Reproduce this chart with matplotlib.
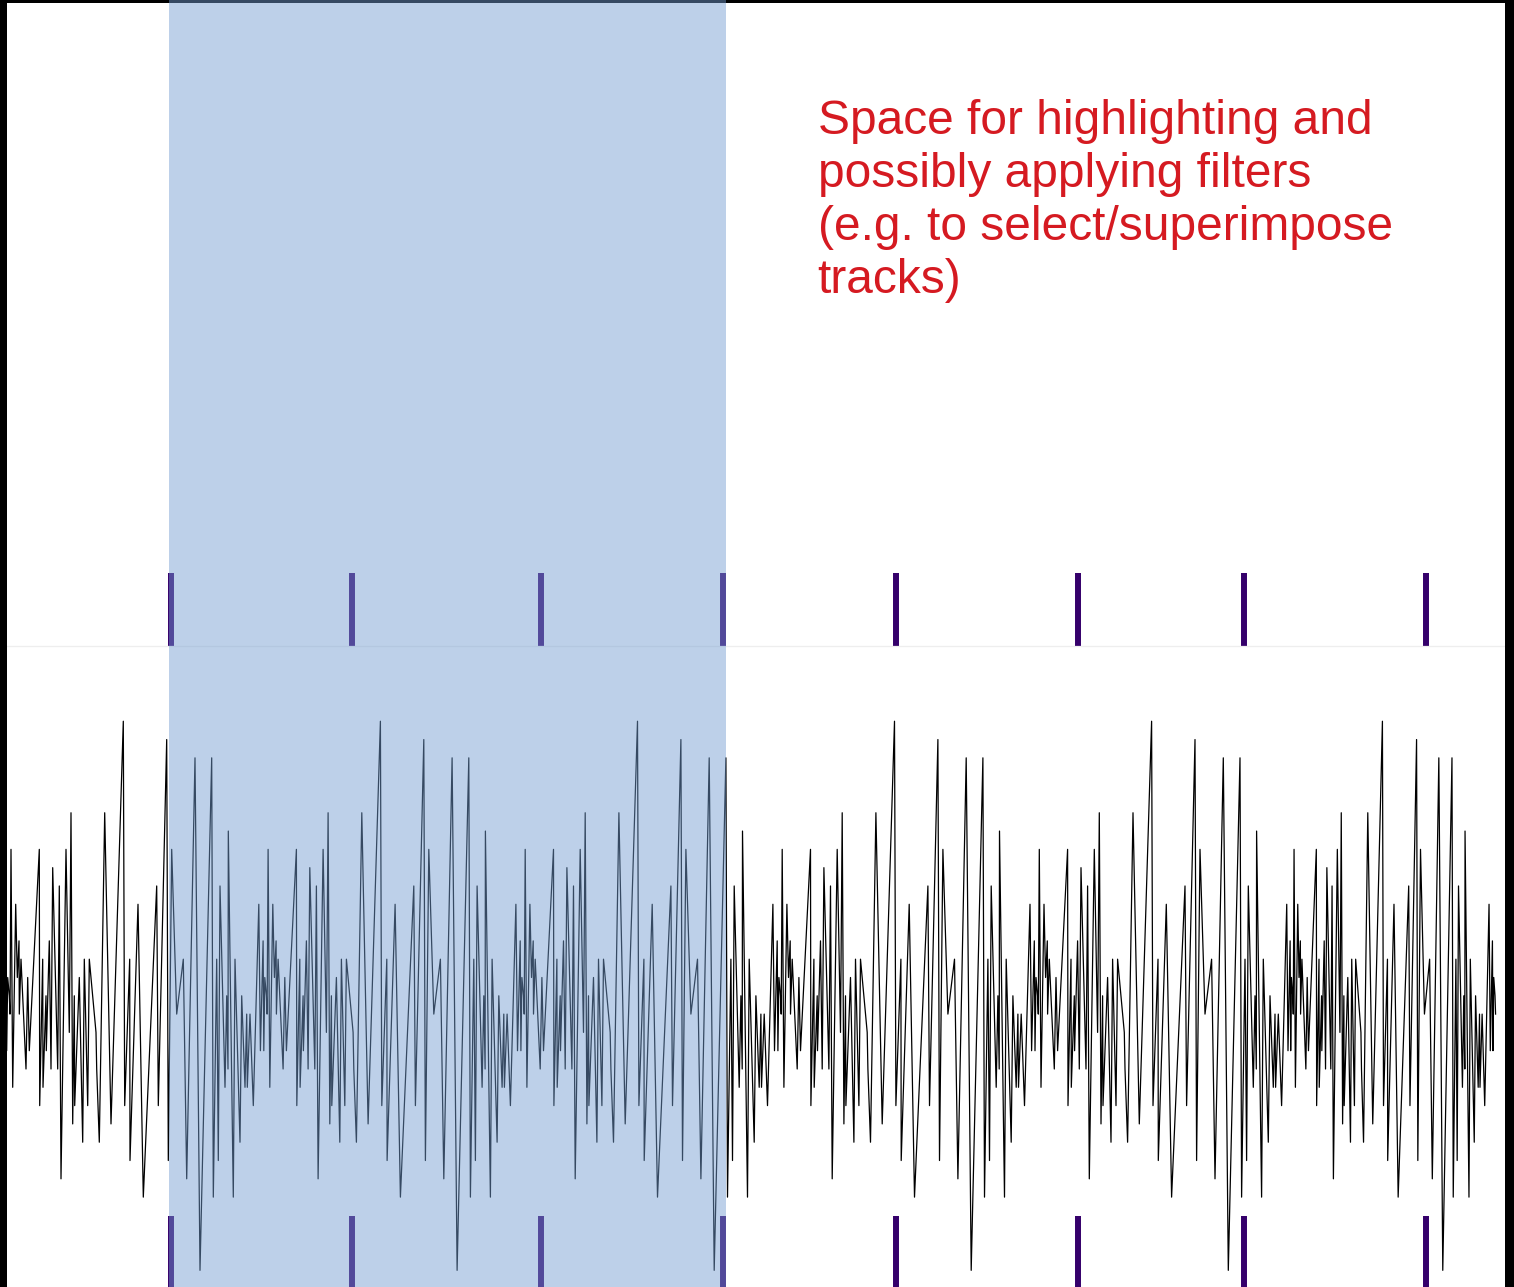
import matplotlib
matplotlib.use("Agg")
import matplotlib.pyplot as plt
from matplotlib.patches import Rectangle
from matplotlib.transforms import blended_transform_factory
import numpy as np

# One stretch of the trace, which the picture repeats: time offset and level
period_t = [1.7, 3.3, 6.0, 6.7, 7.7, 9.3, 10.0, 11.0, 12.7, 15.7,
            17.3, 19.0, 19.3, 21.0, 26.0, 27.7, 29.3, 39.3, 39.7, 42.7,
            43.0, 46.0, 46.3, 49.3, 51.0, 52.7, 57.7, 59.3, 61.0, 66.0,
            69.3, 71.0, 72.7, 74.3, 74.7, 79.3, 82.7, 84.3, 87.7, 89.3,
            96.0, 96.7, 99.3, 104.7, 111.0, 123.3, 124.7, 129.7, 130.0, 138.0,
            143.3, 156.7, 158.3, 166.7, 168.3, 171.7, 176.7, 183.3, 186.7, 195.0,
            200.0, 211.7, 213.3, 216.7, 218.3, 220.0, 225.0, 226.7, 228.0, 228.3,
            233.3, 235.0, 240.0, 241.7, 245.0, 246.7, 247.3, 250.0, 253.3]
period_amp = [5, -3, 3, -3, 1, 0, -1, 8, -5, 5,
              1, 3, -1, 2, -4, 1, -3, 8, -6, 2,
              -5, 0, -3, 3, -4, 7, -4, 6, -10, 8,
              -2, 10, -7, 0, -6, 1, -8, 2, -6, 2,
              -2, -4, -8, 10, -7, 15, -6, 2, -9, 5,
              -11, 6, -6, 14, -9, 8, -1, 2, -10, 13,
              -15, 13, -11, 2, -9, 6, -5, 0, -4, 9,
              -11, 2, -8, 0, -5, -1, -5, -1, -6]
period_len = 257.1

# where each repetition starts on the time axis and how wide it is drawn
segment_start = [0.0, 257.1, 514.2, 771.2, 1028.3, 1285.4, 1487.7]
segment_width = [257.1, 257.1, 257.1, 257.1, 257.1, 202.3, 202.3]
trace_end = 1495.8

event_times = [170.5, 352.3, 541.0, 722.6, 896.3, 1077.7, 1244.3, 1425.7]
highlight = (169.0, 725.7)

note = ("Space for highlighting and\npossibly applying filters\n"
        "(e.g. to select/superimpose\ntracks)")

W, H = 1514, 1287
split = 646

t_parts, a_parts = [], []
for start, width in zip(segment_start, segment_width):
    t_parts.append(start + np.array(period_t) * width / period_len)
    a_parts.append(np.array(period_amp))
t = np.concatenate(t_parts)
amp = np.concatenate(a_parts)
keep = t <= trace_end

fig = plt.figure(figsize=(W / 100, H / 100), dpi=100, facecolor="white")
ax_top = fig.add_axes([0, (H - split) / H, 1, split / H])
ax_bot = fig.add_axes([0, 0, 1, (H - split) / H])

for ax in (ax_top, ax_bot):
    ax.set_xlim(0, W)
    ax.set_xticks([])
    ax.set_yticks([])
    for side in ("left", "right", "bottom", "top"):
        ax.spines[side].set_visible(False)

ax_top.set_ylim(0, 1)
ax_top.vlines(event_times, 0, 0.113, transform=ax_top.get_xaxis_transform(),
              colors="#35006b", linewidth=4.3)

# divider between the two tracks
ax_bot.spines["top"].set_visible(True)
ax_bot.spines["top"].set_color("#eeeeee")
ax_bot.spines["top"].set_linewidth(0.9)

ax_bot.plot(t[keep], amp[keep], color="black", linewidth=0.9)
ax_bot.set_ylim(-15.91, 19.11)
ax_bot.vlines(event_times, 0, 0.111, transform=ax_bot.get_xaxis_transform(),
              colors="#35006b", linewidth=4.3)

# highlighted time window, laid over both tracks
span_tf = blended_transform_factory(ax_bot.transData, fig.transFigure)
fig.add_artist(Rectangle((highlight[0], 0), highlight[1] - highlight[0], 1,
                         transform=span_tf, facecolor="#739dd1", alpha=0.47,
                         edgecolor="none", zorder=3))

# black frame around the screenshot
for x0, y0, w, h in [(0, 0, 7, H), (1505, 0, 9, H), (0, H - 2.7, W, 2.7)]:
    fig.add_artist(Rectangle((x0 / W, y0 / H), w / W, h / H,
                             transform=fig.transFigure, facecolor="black",
                             edgecolor="none", zorder=2))

fig.text(817.5 / W, 1 - 98.5 / H, note, color="#d51a21", fontsize=34.5,
         family="Liberation Sans", ha="left", va="top", linespacing=1.23,
         zorder=6)

fig.savefig("out.png", dpi=100, facecolor="white")
